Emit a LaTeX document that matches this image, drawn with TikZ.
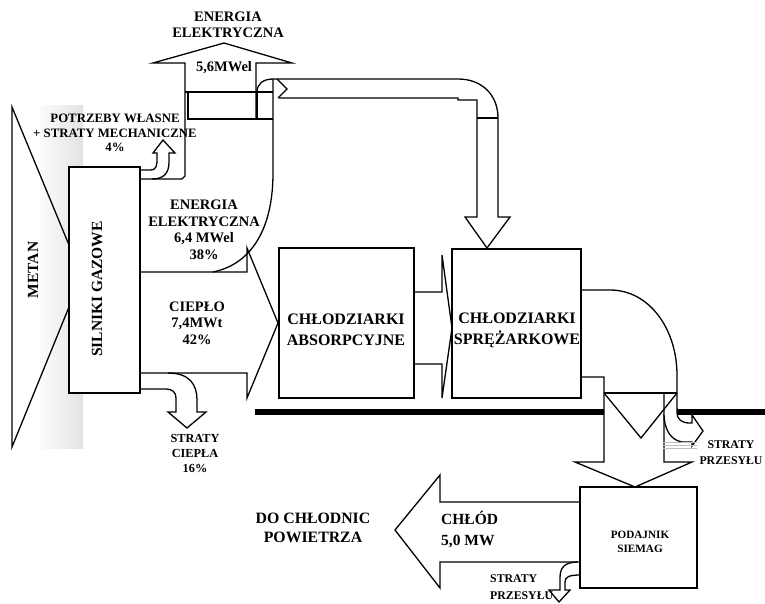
\documentclass[tikz,border=0pt]{standalone}
\usepackage{fontspec}
\setmainfont{Liberation Serif}
\begin{document}
\begin{tikzpicture}[x=1pt,y=-1pt]
\tikzset{
  ln/.style={line width=1.3pt, line join=miter},
  boxst/.style={draw, line width=1.3pt, fill=white, inner sep=0pt},
  tA/.style={font=\fontsize{14.5}{16.5}\selectfont\bfseries, align=center, inner sep=0pt},
  tB/.style={font=\fontsize{12.8}{14.5}\selectfont\bfseries, align=center, inner sep=0pt},
  tC/.style={font=\fontsize{16}{21}\selectfont\bfseries, align=center, inner sep=0pt},
  tD/.style={font=\fontsize{11.5}{16}\selectfont\bfseries, align=center, inner sep=0pt},
  tE/.style={font=\fontsize{15.5}{20}\selectfont\bfseries, align=center, inner sep=0pt},
}
\useasboundingbox[fill=white] (0,0) rectangle (765,603);

% gray stripes
\shade[left color=gray!3, right color=gray!22] (40,105) rectangle (83,448);

% METAN wedge
\draw[ln] (69,245) -- (12,107) -- (12,447) -- (69,307);

% 4% own needs arrow
\draw[ln] (140,170) -- (150,170) .. controls (157,170) and (157,165) .. (157,158) -- (157,153) -- (153,153) -- (163,140) -- (175,153) -- (169,153) -- (169,162) .. controls (169,174) and (163,179) .. (152,179);

% electric energy flow, up arrow
\draw[ln] (140,179) -- (182,179) -- (185,176) -- (185,63) -- (153,63) -- (224,43) -- (292,63) -- (256,63) -- (256,119);
\draw[line width=2.4pt] (257,92) -- (257,119);
\draw[ln] (185,92) -- (273,92);
\draw[ln] (188,92) -- (188,119) -- (273,119);

% pipe to compressor chillers
\draw[ln] (257,92) .. controls (257,84) and (263,79) .. (273,79) -- (458,79) .. controls (482,79) and (498,95) .. (498,118) -- (498,217) -- (510,217) -- (487,248) -- (465,217) -- (477,217) -- (477,100) -- (458,100) -- (458,98) -- (279,98);
\draw[ln] (477,118) -- (498,118);
\draw[ln] (277,79) -- (287,89) -- (278,98);

% electric region right boundary
\draw[ln] (273,79) -- (273,173) .. controls (273,228) and (252,264) .. (213,272);

% heat flow
\draw[ln] (140,272) -- (247,272) -- (247,248) -- (278,323) -- (247,398) -- (247,373) -- (140,373);
% heat losses
\draw[ln] (168,373) .. controls (190,373) and (197,385) .. (197,400) -- (197,412) -- (206,412) -- (187,428) -- (168,412) -- (176,412) -- (176,398) .. controls (176,392) and (172,389) .. (166,389) -- (140,389);

% absorption -> compressor
\draw[ln] (414,292) -- (442,292) -- (442,255) -- (452,328) -- (442,398) -- (442,364) -- (414,364);

% compressor output
\draw[ln] (581,290) -- (610,290) .. controls (650,290) and (677,330) .. (677,375) -- (677,412);
\draw[ln] (581,377) -- (604,377) -- (604,462) -- (575,462) -- (635,487) -- (692,462) -- (664,462) -- (664,393);
\draw[ln] (604,393) -- (677,393);
\draw[ln] (604,393) -- (641,438) -- (677,393);

% ground line
\draw[line width=6pt] (255,412) -- (604,412);
\draw[line width=6pt] (677,412) -- (765,412);

% transmission losses (right)
\draw[ln, fill=white] (677,408) -- (677,412) .. controls (677,420) and (682,423) .. (690,423) -- (692,423) -- (692,415) -- (703,431) -- (692,446) -- (692,442) -- (682,442) .. controls (670,440) and (664,428) .. (664,414);
\draw[gray!50, line width=0.5pt] (663,442) -- (697,442) (663,445) -- (697,445) (663,448) -- (697,448);

% cold output arrow
\draw[ln] (580,502) -- (440,502) -- (440,475) -- (395,530) -- (440,588) -- (440,562) -- (580,562);
% transmission losses (bottom)
\draw[ln, fill=white] (578,562) .. controls (564,562) and (560,568) .. (560,578) -- (560,590) -- (549,590) -- (559,602) -- (570,590) -- (565,590) -- (565,582) .. controls (565,577) and (569,575) .. (580,575);

% boxes
\node[boxst, minimum width=71pt, minimum height=226pt] (silniki) at (104.5,280) {};
\node[boxst, minimum width=135pt, minimum height=150pt] (absorp) at (346.5,323) {};
\node[boxst, minimum width=129pt, minimum height=149pt] (sprez) at (516.5,323.5) {};
\node[boxst, minimum width=117pt, minimum height=101pt] (podajnik) at (638.5,537.5) {};

% texts
\node[tA] (eeTop) at (228,25) {ENERGIA\\ELEKTRYCZNA};
\node[tA] (mwel56) at (224,68) {5,6MWel};
\node[tB] (potrz) at (115,133) {POTRZEBY WŁASNE\\+ STRATY MECHANICZNE\\4\%};
\node[tA] (eeMid) at (204,230) {ENERGIA\\ELEKTRYCZNA\\6,4 MWel\\38\%};
\node[tA] (cieplo) at (197,323) {CIEPŁO\\7,4MWt\\42\%};
\node[font=\fontsize{12.3}{15}\selectfont\bfseries, align=center, inner sep=0pt] (stratyC) at (195,453) {STRATY\\CIEPŁA\\16\%};
\node[tC] (tAbs) at (346,330) {CHŁODZIARKI\\ABSORPCYJNE};
\node[tC] (tSpr) at (517,330) {CHŁODZIARKI\\SPRĘŻARKOWE};
\node[tE, rotate=90] (metan) at (33,270) {METAN};
\node[tE, rotate=90] (tSil) at (97,289) {SILNIKI GAZOWE};
\node[tE, align=left, anchor=west, font=\fontsize{15.5}{21}\selectfont\bfseries] (chlod) at (441,530) {CHŁÓD\\5,0 MW};
\node[tE, font=\fontsize{15.8}{19}\selectfont\bfseries] (doch) at (313,528) {DO CHŁODNIC\\POWIETRZA};
\node[tD, font=\fontsize{11.2}{14}\selectfont\bfseries] (tPod) at (640,542) {PODAJNIK\\SIEMAG};
\node[tD, align=left, anchor=west, font=\fontsize{11.8}{17}\selectfont\bfseries] (strB) at (490,587) {STRATY\\PRZESYŁU};
\node[tD, font=\fontsize{11.8}{16}\selectfont\bfseries] (strR) at (731,453) {STRATY\\PRZESYŁU};
\end{tikzpicture}
\end{document}
